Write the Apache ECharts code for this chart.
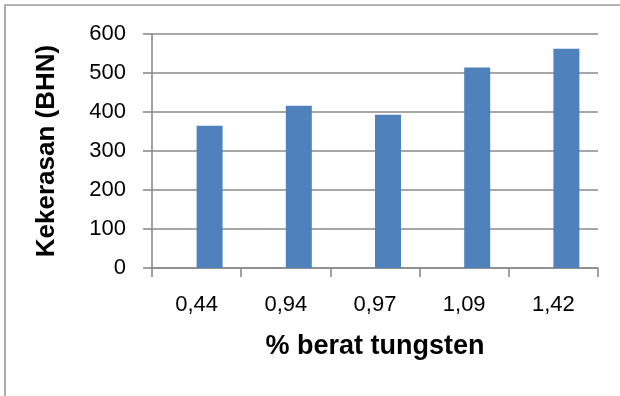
<!DOCTYPE html>
<html>
<head>
<meta charset="utf-8">
<script src="https://cdn.jsdelivr.net/npm/echarts@6/dist/echarts.min.js"></script>
<style>
  html, body { margin: 0; padding: 0; background: #fff; }
  #chart { width: 620px; height: 396px; }
</style>
</head>
<body>
<div id="chart"></div>
<script>
// Hardness (BHN) measured for each tungsten weight percentage
const categories = ['0,44', '0,94', '0,97', '1,09', '1,42'];
const hardness = [365, 416, 393, 514, 562];
// Clustered layout keeps an empty first slot, so each bar sits right of its category centre
const emptySlot = [null, null, null, null, null];
const yTicks = { min: 0, max: 600, interval: 100 };

const FONT = '"Liberation Sans", Arial, sans-serif';
const GRID_COLOR = '#8a8a8a';

const chart = echarts.init(document.getElementById('chart'), null, { renderer: 'canvas' });

chart.setOption({
  animation: false,
  backgroundColor: '#ffffff',
  graphic: [{
    type: 'rect',
    shape: { x: 5, y: 5, width: 1000, height: 1000 },
    style: { fill: 'none', stroke: '#9a9a9a', lineWidth: 1.6 },
    silent: true
  }],
  grid: { left: 152, right: 22, top: 34, bottom: 128, containLabel: false },
  xAxis: {
    type: 'category',
    data: categories,
    name: '% berat tungsten',
    nameLocation: 'middle',
    nameGap: 65,
    nameTextStyle: { fontFamily: FONT, fontSize: 27, fontWeight: 'bold', color: '#000' },
    axisLine: { show: true, lineStyle: { color: GRID_COLOR, width: 1.6 } },
    axisTick: { show: true, length: 9, lineStyle: { color: GRID_COLOR, width: 1.6 } },
    axisLabel: { fontFamily: FONT, fontSize: 22, color: '#000', margin: 26 },
    splitLine: { show: false }
  },
  yAxis: {
    type: 'value',
    min: yTicks.min,
    max: yTicks.max,
    interval: yTicks.interval,
    name: 'Kekerasan (BHN)',
    nameLocation: 'middle',
    nameGap: 92,
    nameRotate: 90,
    nameTextStyle: { fontFamily: FONT, fontSize: 26, fontWeight: 'bold', color: '#000' },
    axisLine: { show: true, lineStyle: { color: GRID_COLOR, width: 1.6 } },
    axisTick: { show: true, length: 9, lineStyle: { color: GRID_COLOR, width: 1.6 } },
    axisLabel: { fontFamily: FONT, fontSize: 22, color: '#000', margin: 26 },
    splitLine: { show: true, lineStyle: { color: GRID_COLOR, width: 1.6 } }
  },
  series: [
    {
      name: 'empty',
      type: 'bar',
      data: emptySlot,
      barWidth: 26,
      barGap: '0%',
      itemStyle: { color: '#4F81BD' }
    },
    {
      name: 'Kekerasan',
      type: 'bar',
      data: hardness,
      barWidth: 26,
      barGap: '0%',
      itemStyle: { color: '#4F81BD' }
    }
  ]
});
</script>
</body>
</html>
